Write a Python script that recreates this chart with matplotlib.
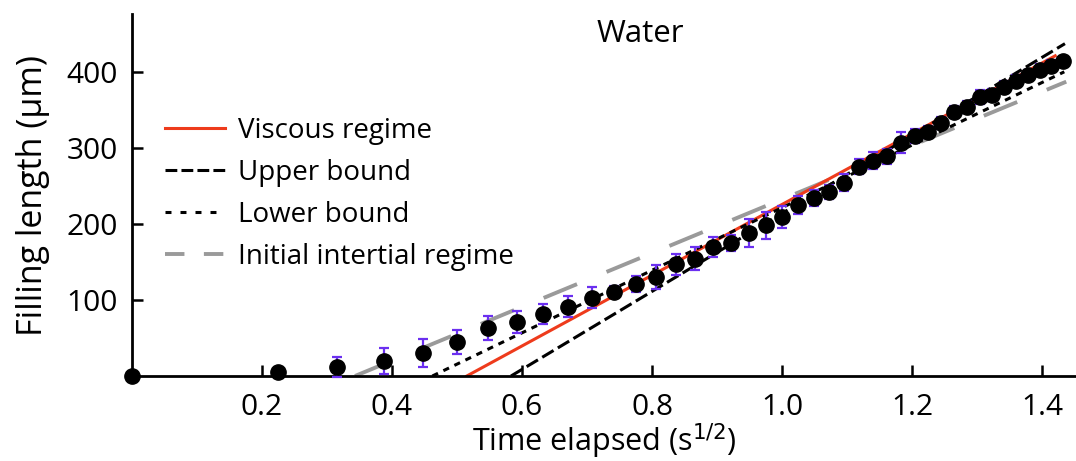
import numpy as np
import matplotlib
matplotlib.use("Agg")
import matplotlib.pyplot as plt
from matplotlib.lines import Line2D

plt.rcParams['font.family'] = ['Open Sans', 'DejaVu Sans']
plt.rcParams['lines.scale_dashes'] = False

# measured filling length vs sqrt(time)
sqrt_t = [0.000, 0.224, 0.316, 0.387, 0.447, 0.500, 0.548, 0.592, 0.632, 0.671,
          0.707, 0.742, 0.775, 0.806, 0.837, 0.866, 0.894, 0.922, 0.949, 0.975,
          1.000, 1.025, 1.049, 1.072, 1.095, 1.118, 1.140, 1.162, 1.183, 1.204,
          1.225, 1.245, 1.265, 1.285, 1.304, 1.323, 1.342, 1.360, 1.378, 1.396,
          1.414, 1.432]
length = [0, 5, 12, 20, 30, 45, 63, 71, 82, 91,
          103, 111, 121, 130, 147, 154, 170, 175, 188, 198,
          209, 225, 234, 242, 254, 275, 283, 289, 307, 316,
          321, 333, 347, 354, 367, 370, 380, 388, 396, 403,
          408, 414]
err = [0, 0, 13, 17, 18, 16, 16, 15, 13, 14,
       14, 7, 11, 16, 14, 15, 13, 10, 18, 18,
       14, 12, 11, 9, 11, 10, 11, 10, 14, 9,
       8, 8, 8, 8, 9, 8, 8, 8, 7, 7,
       7, 6]

# model lines (end points)
viscous_x = [0.515, 1.42]
viscous_y = [0, 421]
upper_x = [0.583, 1.435]
upper_y = [0, 437]
lower_x = [0.462, 1.434]
lower_y = [0, 400]
inertial_x = [0.343, 1.437]
inertial_y = [0, 387]

red = '#ee3b1c'
gray = '#9a9a9a'
purple = '#6b2ff0'

fig = plt.figure(figsize=(10.76, 4.61), dpi=100)
ax = fig.add_axes([132/1076, 85/461, 944/1076, 362/461])

ax.plot(inertial_x, inertial_y, color=gray, lw=2.8, dashes=(26, 23), zorder=1)
ax.plot(viscous_x, viscous_y, color=red, lw=2.2, zorder=2)
ax.plot(upper_x, upper_y, color='black', lw=2.2, dashes=(9.5, 3.6), zorder=2)
ax.plot(lower_x, lower_y, color='black', lw=2.2, dashes=(4.5, 4.3), zorder=2)

ax.errorbar(sqrt_t, length, yerr=err, fmt='o', color='black', ms=11,
            ecolor=purple, elinewidth=1.6, capsize=3.8, capthick=1.6,
            zorder=3, clip_on=False)

ax.set_xlim(0, 1.452)
ax.set_ylim(0, 476)
ax.set_xticks([0.2, 0.4, 0.6, 0.8, 1.0, 1.2, 1.4])
ax.set_yticks([100, 200, 300, 400])
for s in ['top', 'right']:
    ax.spines[s].set_visible(False)
for s in ['left', 'bottom']:
    ax.spines[s].set_linewidth(2.0)
ax.tick_params(direction='in', length=8, width=1.8, labelsize=21.5)
ax.tick_params(axis='x', pad=12)
ax.tick_params(axis='y', pad=10)

ax.set_xlabel('Time elapsed (s$^{1/2}$)', fontsize=22, labelpad=0)
ax.set_ylabel('Filling length (µm)', fontsize=24.5, labelpad=12)
ax.text(0.538, 0.946, 'Water', transform=ax.transAxes, ha='center', va='center', fontsize=22.5)

handles = [Line2D([], [], color=red, lw=2.2),
           Line2D([], [], color='black', lw=2.2, dashes=(8.5, 3)),
           Line2D([], [], color='black', lw=2.2, dashes=(4.3, 6.5)),
           Line2D([], [], color=gray, lw=2.8, dashes=(14, 14))]
labels = ['Viscous regime', 'Upper bound', 'Lower bound', 'Initial intertial regime']
ax.legend(handles, labels, loc='upper left',
          bbox_to_anchor=(0.035, 0.7155), frameon=False, fontsize=20,
          handlelength=2.16, handletextpad=0.47, labelspacing=0.5,
          borderpad=0, borderaxespad=0)

fig.savefig('out.png', dpi=100)
